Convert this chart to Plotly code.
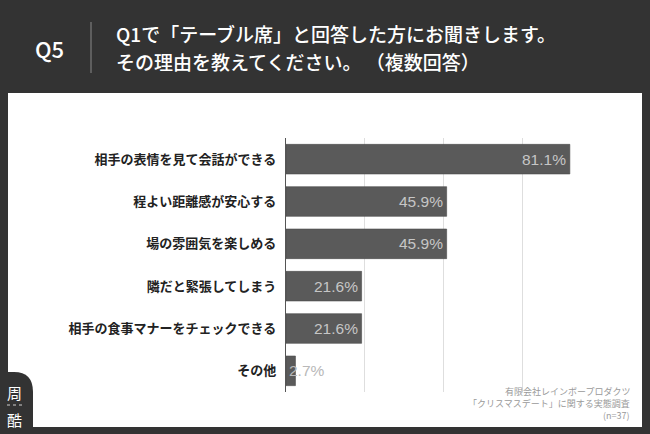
import plotly.graph_objects as go

categories = [
    "相手の表情を見て会話ができる",
    "程よい距離感が安心する",
    "場の雰囲気を楽しめる",
    "隣だと緊張してしまう",
    "相手の食事マナーをチェックできる",
    "その他",
]
values = [81.1, 45.9, 45.9, 21.6, 21.6, 2.7]
value_labels = ["81.1%", "45.9%", "45.9%", "21.6%", "21.6%", "2.7%"]

W, H = 650, 434
L, R, T, B = 286, 601, 138, 392
PW, PH = R - L, B - T

def px(x):
    return (x - L) / PW

def py(y):
    return 1 - (y - T) / PH

JP = "Noto Sans CJK JP"

fig = go.Figure()
fig.add_trace(go.Bar(
    y=categories, x=values, orientation="h",
    marker=dict(color="#5a5a5a", line=dict(color="#4c4c4c", width=0.6)),
    width=0.7, hoverinfo="skip",
))

annotations = []
for c, v, t in zip(categories, values, value_labels):
    if v >= 10:
        annotations.append(dict(x=v, y=c, xref="x", yref="y", text=t, showarrow=False,
                                xanchor="right", xshift=-2,
                                font=dict(family="Liberation Sans", size=15.5, color="#c6c6c6")))
    else:
        annotations.append(dict(x=0, y=c, xref="x", yref="y", text=t, showarrow=False,
                                xanchor="left", xshift=1,
                                font=dict(family="Liberation Sans", size=15.5, color="#b8b8b8")))

# header
annotations.append(dict(x=px(49), y=py(48), xref="paper", yref="paper", text="Q5",
                        showarrow=False, xanchor="center", yanchor="middle",
                        font=dict(family=JP, size=22, color="white", weight=500)))
annotations.append(dict(x=px(114), y=py(33), xref="paper", yref="paper",
                        text="Q1で「テーブル席」と回答した方にお聞きします。",
                        showarrow=False, xanchor="left", yanchor="middle",
                        font=dict(family=JP, size=19, color="white", weight=500)))
annotations.append(dict(x=px(114), y=py(61), xref="paper", yref="paper",
                        text="その理由を教えてください。 （複数回答）",
                        showarrow=False, xanchor="left", yanchor="middle",
                        font=dict(family=JP, size=19, color="white", weight=500)))
# footer
footer = ["有限会社レインボープロダクツ", "「クリスマスデート」に関する実態調査", "(n=37)"]
for line, yy in zip(footer, [391, 403, 415]):
    annotations.append(dict(x=px(632), y=py(yy), xref="paper", yref="paper", text=line,
                            showarrow=False, xanchor="right", yanchor="middle",
                            font=dict(family=JP, size=9, color="#9a9a9a")))
# logo glyphs
annotations.append(dict(x=px(14), y=py(392), xref="paper", yref="paper", text="周",
                        showarrow=False, xanchor="center", yanchor="middle",
                        font=dict(family=JP, size=15, color="white")))
annotations.append(dict(x=px(14), y=py(419), xref="paper", yref="paper", text="酷",
                        showarrow=False, xanchor="center", yanchor="middle",
                        font=dict(family=JP, size=15, color="white")))

shapes = [
    # white panel
    dict(type="rect", xref="paper", yref="paper", x0=px(8), x1=px(642), y0=py(93), y1=py(427),
         fillcolor="white", line=dict(width=0), layer="below"),
    # header separator
    dict(type="line", xref="paper", yref="paper", x0=px(91), x1=px(91), y0=py(22), y1=py(73),
         line=dict(color="#8a8a8a", width=1)),
    # logo tab
    dict(type="path", xref="paper", yref="paper",
         path=(f"M {px(0)},{py(372)} L {px(14)},{py(372)} "
               f"Q {px(33)},{py(372)} {px(33)},{py(392)} "
               f"L {px(33)},{py(434)} L {px(0)},{py(434)} Z"),
         fillcolor="#333333", line=dict(width=0), layer="above"),
    # logo dotted line
    dict(type="line", xref="paper", yref="paper", x0=px(7), x1=px(22), y0=py(405), y1=py(405),
         line=dict(color="#cfcfcf", width=1, dash="dot"), layer="above"),
]

fig.update_layout(
    width=W, height=H,
    margin=dict(l=L, r=W - R, t=T, b=H - B, autoexpand=False),
    paper_bgcolor="#333333",
    plot_bgcolor="rgba(0,0,0,0)",
    showlegend=False,
    bargap=0.3,
    xaxis=dict(range=[0, 90], tick0=0, dtick=22.5, showgrid=True, gridcolor="#dedede",
               gridwidth=1, showticklabels=False, zeroline=False, showline=False, fixedrange=True),
    yaxis=dict(autorange="reversed", showline=True, linecolor="#555555", linewidth=1.2,
               ticks="", ticklabelstandoff=6, showgrid=False,
               tickfont=dict(family=JP, size=13, color="#222222", weight=600), fixedrange=True),
    annotations=annotations,
    shapes=shapes,
)

fig.write_html("out.html")
